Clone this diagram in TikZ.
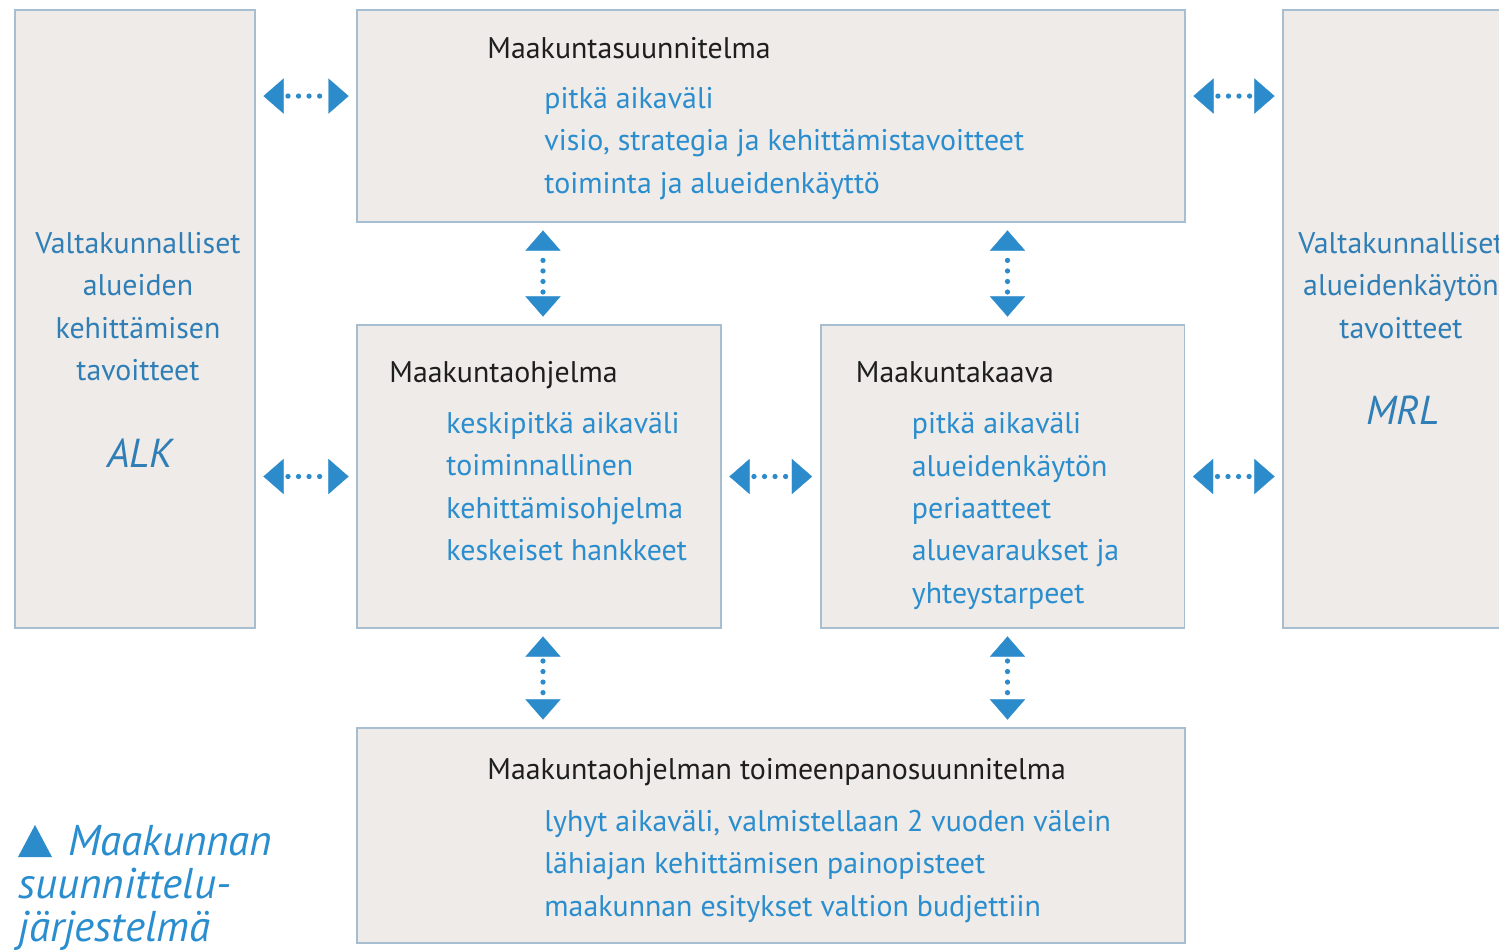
\documentclass[tikz,border=0pt]{standalone}
\usepackage{fontspec}
\setsansfont{PT Sans}
\usetikzlibrary{arrows.meta,positioning,calc}
\definecolor{boxfill}{HTML}{EEEBE8}
\definecolor{boxline}{HTML}{A6BED0}
\definecolor{itemblue}{HTML}{2A8DCE}
\definecolor{sideblue}{HTML}{2F7EB6}
\definecolor{arrowblue}{HTML}{2B8BCB}
\definecolor{hdrdark}{HTML}{1E1E1E}
\tikzset{
  planbox/.style={
    rectangle, draw=boxline, fill=boxfill, line width=1.1pt,
    inner sep=0pt
  },
  hdrnode/.style={
    font=\sffamily\fontsize{17}{24.1}\selectfont, text=hdrdark,
    inner sep=0pt, anchor=base west
  },
  % multi-line nodes: base anchor sits on the last line
  itemnode/.style={
    font=\sffamily\fontsize{17}{24.1}\selectfont, text=itemblue,
    align=left, inner sep=0pt, anchor=base west
  },
  sidenode/.style={
    font=\sffamily\fontsize{17}{24.1}\selectfont, text=sideblue,
    align=center, inner sep=0pt, anchor=base
  },
  abbrnode/.style={
    font=\sffamily\itshape\fontsize{23}{24}\selectfont, text=sideblue,
    inner sep=0pt, anchor=base
  },
  linkarrow/.style={
    color=arrowblue, line width=3pt, line cap=round,
    dash pattern=on 0pt off 6pt, dash phase=-2.5pt,
    shorten <=0.15cm, shorten >=0.15cm,
    {Triangle[width=20pt,length=11.5pt,line width=0.1pt]}-{Triangle[width=20pt,length=11.5pt,line width=0.1pt]}
  },
}

\begin{document}
\begin{tikzpicture}[x=0.02cm, y=-0.02cm]
  \useasboundingbox (0,0) rectangle (1499,951);
  \clip (0,0) rectangle (1499,951);

  % Boxes
  \node[planbox, minimum width=4.8cm, minimum height=12.36cm] (alk) at (135,319) {};
  \node[planbox, minimum width=4.8cm, minimum height=12.36cm] (mrl) at (1403,319) {};
  \node[planbox, minimum width=16.56cm, minimum height=4.24cm] (suunn) at (771,116) {};
  \node[planbox, minimum width=7.28cm, minimum height=6.06cm] (ohj) at (539,476.5) {};
  \node[planbox, minimum width=7.28cm, minimum height=6.06cm] (kaava) at (1002.5,476.5) {};
  \node[planbox, minimum width=16.56cm, minimum height=4.3cm] (toim) at (771,835.5) {};

  % Maakuntasuunnitelma
  \node[hdrnode] (suunnH) at ($(suunn.north west)+(131,49)$) {Maakuntasuunnitelma};
  \node[itemnode] (suunnI) at ($(suunn.north west)+(188,184)$)
    {pitkä aikaväli\\visio, strategia ja kehittämistavoitteet\\toiminta ja alueidenkäyttö};

  % Maakuntaohjelma
  \node[hdrnode] (ohjH) at ($(ohj.north west)+(33,58)$) {Maakuntaohjelma};
  \node[itemnode] (ohjI) at ($(ohj.north west)+(90,236.5)$)
    {keskipitkä aikaväli\\toiminnallinen\\kehittämisohjelma\\keskeiset hankkeet};

  % Maakuntakaava
  \node[hdrnode] (kaavaH) at ($(kaava.north west)+(36,58)$) {Maakuntakaava};
  \node[itemnode] (kaavaI) at ($(kaava.north west)+(92,279)$)
    {pitkä aikaväli\\alueidenkäytön\\periaatteet\\aluevaraukset ja\\yhteystarpeet};

  % Toimeenpanosuunnitelma
  \node[hdrnode] (toimH) at ($(toim.north west)+(131,52)$) {Maakuntaohjelman toimeenpanosuunnitelma};
  \node[itemnode] (toimI) at ($(toim.north west)+(188,189)$)
    {lyhyt aikaväli, valmistellaan 2 vuoden välein\\lähiajan kehittämisen painopisteet\\maakunnan esitykset valtion budjettiin};

  % Side boxes
  \node[sidenode] (alkT) at (138,380.5)
    {Valtakunnalliset\\alueiden\\kehittämisen\\tavoitteet};
  \node[abbrnode] (alkA) at (140,467) {ALK};
  \node[sidenode] (mrlT) at (1401,338)
    {Valtakunnalliset\\alueidenkäytön\\tavoitteet};
  \node[abbrnode] (mrlA) at (1403,424) {MRL};

  % Connectors
  \coordinate (topY) at ($(suunn.north)+(0,87)$);
  \draw[linkarrow] (alk.east |- topY) -- (suunn.west |- topY);
  \draw[linkarrow] (suunn.east |- topY) -- (mrl.west |- topY);
  \draw[linkarrow] (alk.east |- ohj.west) -- (ohj.west);
  \draw[linkarrow] (ohj.east) -- (kaava.west);
  \draw[linkarrow] (kaava.east) -- (mrl.west |- kaava.east);
  \draw[linkarrow] ([xshift=0.08cm]ohj.north) -- ([xshift=0.08cm]suunn.south -| ohj.north);
  \draw[linkarrow] ([xshift=0.1cm]kaava.north) -- ([xshift=0.1cm]suunn.south -| kaava.north);
  \draw[linkarrow] ([xshift=0.08cm]ohj.south) -- ([xshift=0.08cm]toim.north -| ohj.south);
  \draw[linkarrow] ([xshift=0.1cm]kaava.south) -- ([xshift=0.1cm]toim.north -| kaava.south);

  % Caption
  \fill[arrowblue] (18,857) -- (52,857) -- (35,825) -- cycle;
  \node[font=\sffamily\itshape\fontsize{24.5}{24.4}\selectfont, text=itemblue,
    align=left, inner sep=0pt, anchor=base west] (caption) at (18,941)
    {\hspace*{1cm}Maakunnan\\suunnittelu-\\järjestelmä};
\end{tikzpicture}
\end{document}
